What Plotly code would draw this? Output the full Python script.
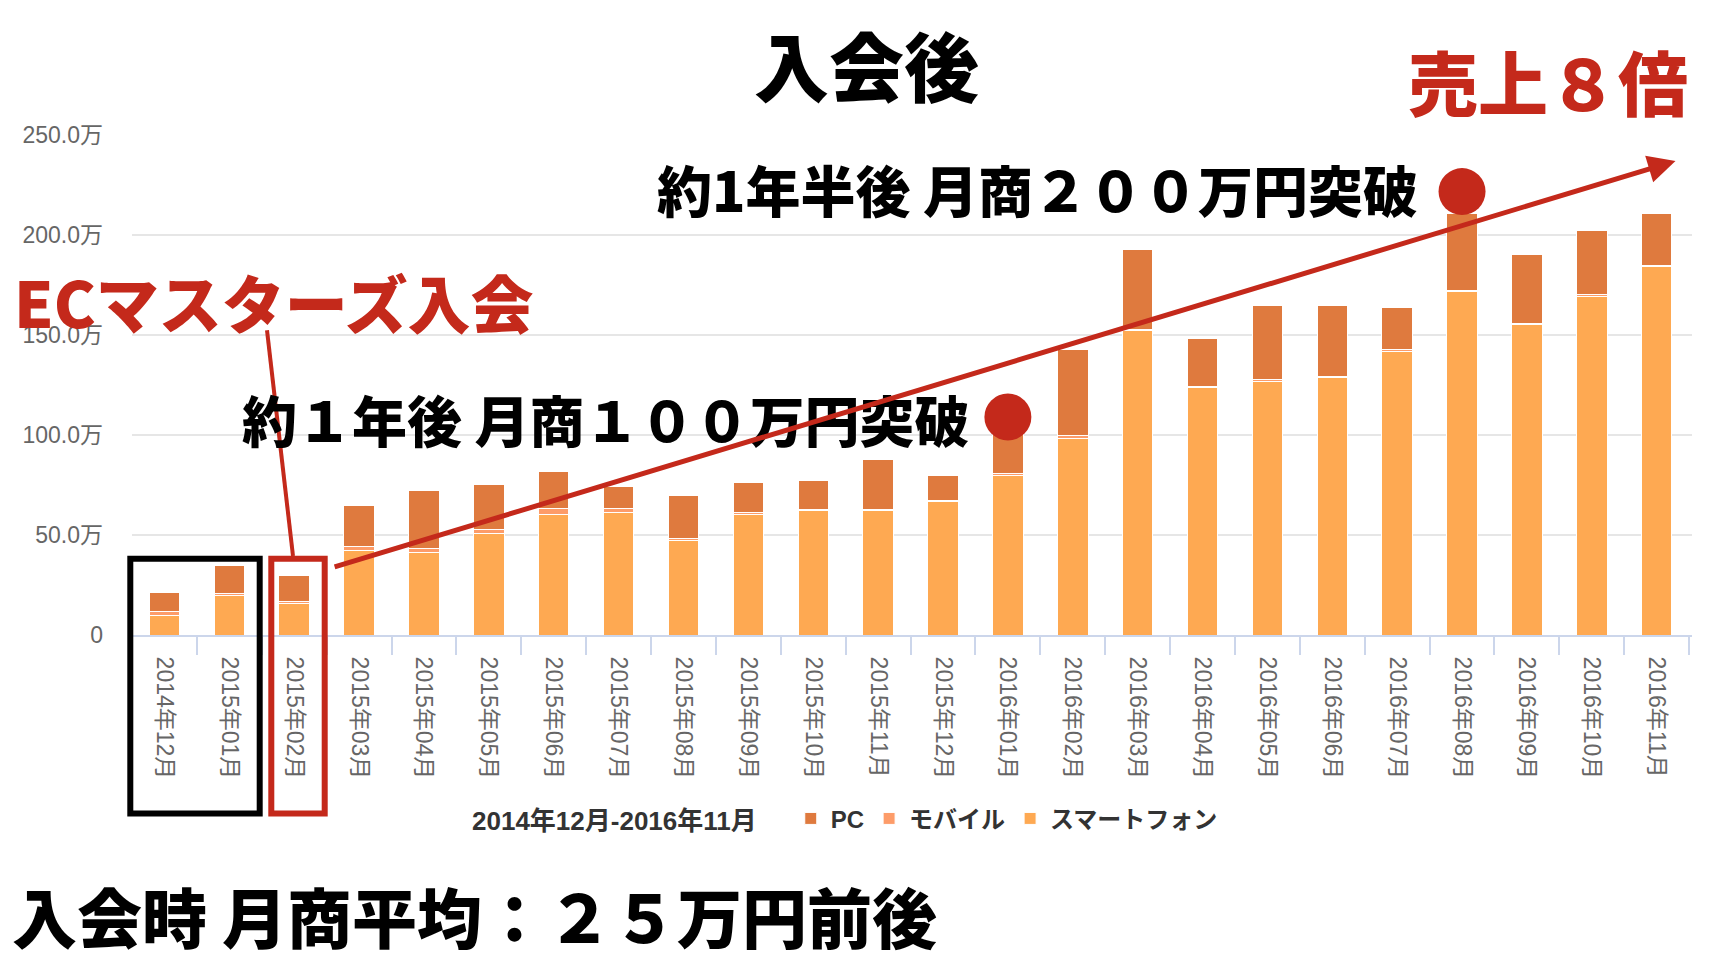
import plotly.graph_objects as go

# 月別売上（万円）
months = ['2014年12月', '2015年01月', '2015年02月', '2015年03月', '2015年04月', '2015年05月',
          '2015年06月', '2015年07月', '2015年08月', '2015年09月', '2015年10月', '2015年11月',
          '2015年12月', '2016年01月', '2016年02月', '2016年03月', '2016年04月', '2016年05月',
          '2016年06月', '2016年07月', '2016年08月', '2016年09月', '2016年10月', '2016年11月']
smartphone = [10, 20, 16, 42.5, 41.5, 51, 60.5, 61.5, 47.5, 60.5, 62.5, 62.5,
              67, 80, 98.5, 152.5, 124, 127, 129, 142, 172, 155.5, 169.5, 184.5]
mobile = [2, 0.8, 1, 2, 2, 2, 3, 2, 1, 1, 0.5, 0.5,
          0.5, 1, 1.5, 0.5, 0.5, 1, 0.5, 1, 0.5, 0.5, 1, 0.5]
pc = [9.5, 14, 13, 20.5, 29, 22.5, 18.5, 11, 21.5, 15, 14.5, 25,
      12.5, 23, 43, 40, 24, 37, 35.5, 21, 38.5, 34.5, 32, 26]

ytick_vals = [0, 50, 100, 150, 200, 250]
ytick_text = ['0', '50.0万', '100.0万', '150.0万', '200.0万', '250.0万']

RED = '#c4291b'
W, H = 1726, 972
# プロット領域（ピクセル）
X0, X1, Y0, Y1 = 132, 1692, 134.5, 635


def paper(xp, yp):
    return (xp - X0) / (X1 - X0), (Y1 - yp) / (Y1 - Y0)


fig = go.Figure()
for name, vals, color in [('スマートフォン', smartphone, '#fea952'),
                          ('モバイル', mobile, '#fd9c69'),
                          ('PC', pc, '#df7a3e')]:
    fig.add_trace(go.Bar(x=months, y=vals, name=name,
                         marker=dict(color=color, line=dict(color='white', width=1))))

jp = 'Noto Sans CJK JP'
tick_font = dict(family='Liberation Sans, Noto Sans CJK JP, sans-serif', size=23, color='#666666')

annotations = []


def text(t, xp, yp, size, color='black', anchor='left'):
    x, y = paper(xp, yp)
    annotations.append(dict(text=t, x=x, y=y, xref='paper', yref='paper', xanchor=anchor,
                            yanchor='middle', showarrow=False,
                            font=dict(family=jp, size=size, color=color, weight=900)))


text('入会後', 866, 63, 75, anchor='center')
text('売上８倍', 1690, 80, 70, RED, anchor='right')
text('約1年半後 月商２００万円突破', 1420, 188, 55, anchor='right')
text('約１年後 月商１００万円突破', 972, 418, 55, anchor='right')
text('ECマスターズ入会', 12, 300, 63, RED)
text('入会時 月商平均：２５万円前後', 10, 915, 65)

# 右肩上がりの矢印
annotations.append(dict(x=23.29, y=237, ax=2.6, ay=33.8, xref='x', yref='y', axref='x', ayref='y',
                        text='', showarrow=True, arrowhead=2, arrowsize=1.1, arrowwidth=5,
                        arrowcolor=RED, standoff=0))

shapes = []
bx0, by0 = paper(130.3, 558.7)
bx1, by1 = paper(259.7, 813.7)
shapes.append(dict(type='rect', xref='paper', yref='paper', x0=bx0, y0=by0, x1=bx1, y1=by1,
                   line=dict(color='black', width=6)))
rx0, ry0 = paper(271.3, 558.7)
rx1, ry1 = paper(324.7, 813.7)
shapes.append(dict(type='rect', xref='paper', yref='paper', x0=rx0, y0=ry0, x1=rx1, y1=ry1,
                   line=dict(color=RED, width=6)))
lx0, ly0 = paper(267, 330)
lx1, ly1 = paper(293, 556)
shapes.append(dict(type='line', xref='paper', yref='paper', x0=lx0, y0=ly0, x1=lx1, y1=ly1,
                   line=dict(color=RED, width=4)))
# 100万・200万突破の丸
for cx, cy in [(13, 109), (20, 221.7)]:
    shapes.append(dict(type='circle', xref='x', yref='y', xsizemode='pixel', ysizemode='pixel',
                       xanchor=cx, yanchor=cy, x0=-23.5, x1=23.5, y0=-23.5, y1=23.5,
                       fillcolor=RED, line=dict(width=0)))

lgx, lgy = paper(470, 819)
fig.update_layout(
    width=W, height=H,
    margin=dict(l=X0, r=W - X1, t=Y0, b=H - Y1, pad=0),
    plot_bgcolor='white', paper_bgcolor='white',
    barmode='stack', bargap=0.53,
    font=dict(family='Liberation Sans, Noto Sans CJK JP, sans-serif'),
    xaxis=dict(type='category', tickangle=90, tickfont=tick_font, showgrid=False,
               showline=True, linecolor='#ccd6eb', linewidth=2, ticklabelstandoff=15,
               ticks='outside', tickson='boundaries', ticklen=18, tickwidth=2, tickcolor='#ccd6eb'),
    yaxis=dict(range=[0, 250], tickvals=ytick_vals, ticktext=ytick_text, tickfont=tick_font,
               showgrid=True, gridcolor='#e6e6e6', gridwidth=2, zeroline=False, ticklabelstandoff=28),
    legend=dict(orientation='h', x=lgx, y=lgy, xanchor='left', yanchor='middle',
                traceorder='reversed', itemwidth=30,
                title=dict(text='2014年12月-2016年11月　', side='left',
                           font=dict(size=26, color='#333333', weight='bold')),
                font=dict(size=24, color='#333333', weight='bold')),
    annotations=annotations,
    shapes=shapes,
)

fig.write_html("out.html", config={'displayModeBar': False},
               post_script="document.body.style.margin='0';")
